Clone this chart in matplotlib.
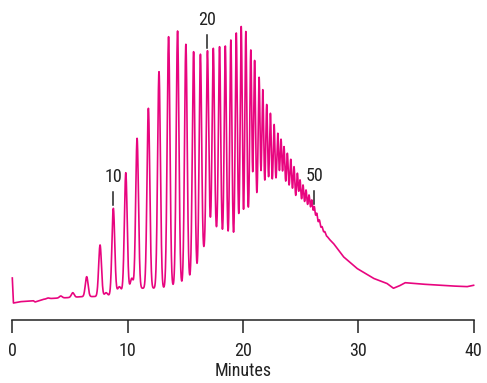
import numpy as np
import matplotlib
matplotlib.use("Agg")
import matplotlib.pyplot as plt

# ---- data (time in minutes, signal in arbitrary units) ----
baseline_t = [0.0, 0.1, 0.67, 1.82, 1.97, 2.69, 3.56, 4.72, 6.02, 7.32, 8.47,
              9.0, 10.04, 11.16, 12.18, 13.1, 13.91, 14.72, 15.41, 16.08, 16.63,
              17.15, 17.67, 18.21, 18.73, 19.17, 19.6, 20.04, 20.47, 21.05, 21.57,
              22.07, 22.58, 23.07, 23.65, 24.08, 24.52, 24.95, 25.53, 25.97, 26.4,
              26.83, 27.27, 27.84, 28.71, 29.87, 31.31, 32.47, 33.04, 33.54, 34.06,
              35.36, 37.67, 39.41, 40.0]
baseline_y = [42, 17, 18.3, 19.3, 18, 20.7, 21.7, 22.3, 23.3, 23.5, 24.5,
              28, 30, 31.7, 31.7, 31.7, 33.3, 35, 40, 46.7, 68.3,
              87, 85, 78.3, 75, 74, 87, 85, 100, 110, 118.3,
              122, 125, 133.3, 128.3, 127, 118.3, 115, 112, 107, 98.3,
              90, 83.3, 76.7, 63.3, 51.7, 41.7, 36.7, 31.7, 34, 37.3,
              36, 34.3, 33.3, 34.7]

peak_t = [3.1, 4.2, 5.24, 6.45, 7.61, 8.13, 8.76, 9.28, 9.84, 10.36, 10.82,
          11.8, 12.72, 13.55, 14.33, 15.05, 15.72, 16.31, 16.92, 17.43, 17.97,
          18.47, 18.95, 19.42, 19.85, 20.25, 20.68, 21.01, 21.4, 21.72, 22.06,
          22.38, 22.7, 23.02, 23.3, 23.56, 23.85, 24.15, 24.43, 24.72, 24.95,
          25.21, 25.47, 25.73, 25.97, 26.19, 26.4, 26.63, 26.86, 27.1, 27.32]
peak_top = [22, 24, 27.3, 43.3, 75, 27.3, 111.7, 33.3, 147.3, 41.7, 181.7,
            211.7, 248.3, 283.3, 289, 275.7, 268.3, 265.8, 269.3, 271.7, 273.3,
            274, 280, 287, 293.5, 288.5, 270, 259.5, 242.7, 230.3, 215.5,
            206.7, 195.5, 186.7, 180.7, 173.3, 166.7, 160.7, 153.3, 146.7, 140,
            135, 130, 125, 120, 113.3, 106.7, 100, 93.3, 88.3, 83.3]

width_t = [0, 14, 20, 27, 40]
width_sigma = [0.12, 0.12, 0.085, 0.06, 0.06]

label_t = [8.76, 16.92, 26.2]
label_text = ["10", "20", "50"]

x_ticks = [0, 10, 20, 30, 40]
x_label = "Minutes"

# ---- build trace ----
t = np.linspace(0, 40, 8001)
base = np.interp(t, baseline_t, baseline_y)
signal = base.copy()
pt = np.array(peak_t)
amp = np.array(peak_top) - np.interp(pt, baseline_t, baseline_y)
sig = np.interp(pt, width_t, width_sigma)
for p, a, s in zip(pt, amp, sig):
    signal += a * np.exp(-0.5 * ((t - p) / s) ** 2)

# ---- figure ----
W, H = 487, 383
fig = plt.figure(figsize=(W / 100, H / 100), dpi=100)
x0px, x1px, axis_px = 12.3, 473.6, 320
ax = fig.add_axes([x0px / W, (H - axis_px) / H, (x1px - x0px) / W, axis_px / H])
ax.set_xlim(0, 40)
ax.set_ylim(0, axis_px)

color = "#E8057F"
ax.plot(t, signal, color=color, lw=1.2, solid_joinstyle="round", clip_on=False)

font = ["Roboto Condensed", "Archivo Narrow", "PT Sans Narrow", "Liberation Sans", "DejaVu Sans"]
fs = 13
ink = "#222222"
for lt, txt in zip(label_t, label_text):
    m = (t > lt - 0.15) & (t < lt + 0.15)
    top = signal[m].max()
    ax.plot([lt, lt], [top + 3, top + 16], color=ink, lw=1.1)
    ax.text(lt, top + 31, txt, ha="center", va="center", fontsize=fs,
            family=font, color=ink)

for s in ["top", "left", "right"]:
    ax.spines[s].set_visible(False)
ax.spines["bottom"].set_color(ink)
ax.spines["bottom"].set_linewidth(1.1)
ax.set_yticks([])
ax.set_xticks(x_ticks)
ax.tick_params(axis="x", direction="out", length=9, width=1.1, color=ink,
               pad=7, labelsize=fs, labelcolor=ink)
for lab in ax.get_xticklabels():
    lab.set_family(font)
ax.set_xlabel(x_label, fontsize=fs, family=font, color=ink, labelpad=1)

fig.savefig("out.png", dpi=100)
